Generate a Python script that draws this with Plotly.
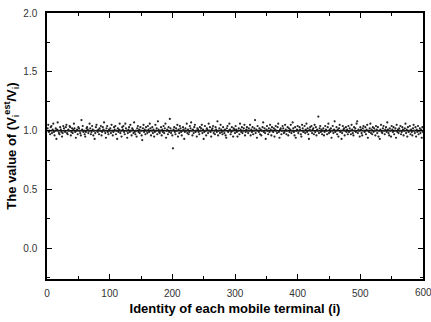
import plotly.graph_objects as go

ratio = [
1.02,1.05,0.99,1.00,0.97,1.03,1.04,0.98,1.01,1.06,0.99,0.96,1.00,1.02,0.93,1.01,1.07,1.00,0.98,0.97,
1.03,1.01,0.99,0.95,0.98,1.04,1.02,1.00,0.99,1.03,1.05,0.98,0.97,1.01,1.00,1.04,1.03,0.96,0.99,1.02,
0.98,1.01,1.06,1.02,0.99,0.94,1.00,1.01,0.97,1.03,1.02,1.00,0.98,0.96,1.09,1.01,1.04,0.99,1.00,0.97,
0.95,0.99,1.02,1.03,1.01,0.98,1.00,1.06,1.02,0.97,0.99,1.04,1.01,0.96,1.00,0.93,0.98,1.03,1.05,1.00,
0.99,1.01,0.97,1.02,1.00,1.04,0.96,0.99,1.03,1.01,1.07,1.00,0.98,0.94,1.02,1.04,0.99,0.97,1.01,1.00,
1.02,0.98,1.05,1.00,0.96,0.99,1.03,1.01,1.04,0.97,1.00,0.93,1.02,0.99,1.01,1.06,0.98,1.00,0.95,1.03,
1.01,1.04,0.99,0.97,1.06,1.02,1.00,0.94,0.98,1.01,1.03,0.99,1.05,1.00,0.96,1.02,1.01,0.98,1.07,0.99,
0.97,1.00,0.95,1.02,1.04,0.99,1.01,0.98,1.03,1.00,0.96,0.92,1.02,1.05,0.99,1.01,0.97,1.03,1.00,0.98,
1.04,1.01,0.99,1.06,1.02,0.96,1.00,1.03,0.98,1.01,0.95,0.99,1.05,1.00,1.02,0.97,1.08,1.01,0.99,0.98,
1.00,1.03,0.96,1.01,0.99,1.04,0.98,1.02,1.06,0.94,1.00,1.01,0.97,1.03,0.99,1.10,1.02,0.98,1.00,0.96,
0.85,1.01,1.03,0.99,0.97,1.02,1.00,1.05,0.95,1.01,0.98,1.04,1.02,0.99,0.96,1.00,1.03,1.01,0.93,0.99,
1.02,1.00,1.06,0.98,1.01,0.97,0.99,1.04,1.02,1.07,1.00,0.96,1.01,0.98,1.03,1.05,0.99,1.00,0.95,1.02,
1.01,0.99,0.97,1.03,1.00,1.02,1.05,0.98,1.01,0.93,0.99,1.04,1.00,0.96,1.02,1.01,0.98,1.06,1.00,1.03,
0.99,0.95,1.01,1.02,1.04,0.98,1.00,0.97,1.03,1.01,0.99,1.08,0.96,1.00,1.02,0.98,1.05,1.01,0.99,0.97,
1.03,1.00,0.98,1.01,0.96,0.94,1.02,1.04,0.99,1.00,1.06,1.01,0.97,0.99,1.03,1.00,0.95,1.02,1.01,0.98,
1.04,1.01,0.99,0.95,1.00,1.02,0.97,1.06,1.01,0.99,1.03,0.98,1.00,1.02,1.05,0.96,0.99,1.01,1.03,1.00,
0.98,1.02,1.00,1.05,0.96,1.01,0.99,1.03,0.97,1.00,1.02,1.09,0.98,1.01,0.94,1.04,1.00,0.99,1.02,0.97,
1.01,0.96,1.00,1.03,1.07,0.99,1.02,0.98,0.93,1.01,1.04,1.00,0.97,1.02,0.99,1.05,1.01,0.96,1.03,1.00,
0.99,1.02,0.95,1.01,1.04,1.00,0.98,1.03,1.06,0.99,0.94,1.01,1.02,0.97,1.00,1.04,1.02,0.98,0.99,1.05,
1.01,0.97,1.00,1.03,0.96,1.02,0.99,1.01,1.05,0.98,1.00,1.07,1.02,0.99,0.96,1.03,0.94,1.00,1.01,1.04,
0.98,1.00,1.03,1.01,0.97,0.95,1.05,1.02,0.99,1.00,1.04,0.98,1.01,1.06,0.99,1.02,0.97,0.93,1.01,1.03,
1.00,1.04,0.98,1.01,1.02,0.97,1.05,0.99,1.03,0.96,1.01,1.00,1.12,0.98,1.02,1.04,0.99,1.01,0.97,1.00,
1.02,0.96,0.99,1.04,1.01,1.00,0.97,1.03,1.06,0.98,1.01,0.99,1.02,0.94,1.00,1.04,0.98,1.01,1.08,0.99,
1.00,1.03,0.97,1.01,0.95,1.02,1.05,0.99,1.00,0.93,0.98,1.04,1.01,1.02,0.96,1.00,1.03,0.99,1.01,0.97,
1.04,0.99,1.02,1.00,0.97,1.05,1.01,0.98,0.96,1.03,1.00,1.02,0.99,1.06,1.08,0.98,1.01,1.00,0.95,1.03,
1.01,0.98,0.96,1.02,1.04,1.00,0.99,1.03,0.97,1.01,1.05,0.94,1.00,0.99,1.02,1.06,0.98,1.01,0.97,1.03,
0.99,1.02,1.00,0.96,1.04,1.01,0.98,1.03,0.95,1.00,0.93,1.01,1.05,0.99,0.98,1.02,1.04,1.00,0.97,1.01,
1.03,0.99,1.07,1.01,0.98,0.96,1.02,1.00,0.95,1.04,1.01,0.99,1.03,0.97,1.00,1.02,0.94,1.05,0.99,1.01,
0.98,1.02,1.00,1.04,0.97,0.99,1.03,1.01,0.96,1.00,1.02,1.06,0.98,1.01,0.95,1.03,0.99,1.00,1.04,0.97,
1.01,0.99,0.96,1.02,1.05,1.00,0.98,1.03,0.95,1.01,0.99,1.04,0.97,1.00,1.02,0.98,1.01,0.94,1.03,0.99,
]
terminal = list(range(1, len(ratio) + 1))
ref_x = [0, 600]
ref_y = [1.0, 1.0]
x_ticks = [0, 100, 200, 300, 400, 500, 600]
y_ticks = [0.0, 0.5, 1.0, 1.5, 2.0]

FONT = "Liberation Sans, Arial"

fig = go.Figure()
fig.add_trace(go.Scatter(x=ref_x, y=ref_y, mode="lines",
                         line=dict(color="#111", width=1.6), showlegend=False))
fig.add_trace(go.Scatter(x=terminal, y=ratio, mode="markers",
                         marker=dict(color="#222", size=2.2, line=dict(width=0)),
                         showlegend=False))

axis_common = dict(showline=True, linecolor="black", linewidth=1.5, mirror="ticks",
                   ticks="inside", ticklen=5, tickwidth=1.2, tickcolor="black",
                   showgrid=False, zeroline=False,
                   tickfont=dict(family=FONT, size=10, color="#333"))

fig.update_xaxes(range=[0, 600], tickvals=x_ticks,
                 minor=dict(ticks="inside", dtick=50, ticklen=3, tickcolor="black"),
                 title=dict(text="<b>Identity of each mobile terminal (i)</b>",
                            font=dict(family=FONT, size=13, color="black"),
                            standoff=6),
                 ticklabelstandoff=4, **axis_common)
fig.update_yaxes(range=[-0.26, 2.0], tickvals=y_ticks, tickformat=".1f",
                 minor=dict(ticks="inside", dtick=0.25, tick0=0, ticklen=3, tickcolor="black"),
                 title=dict(text="<b>The value of (V<sub>i</sub><sup>est</sup>/V<sub>i</sub>)</b>",
                            font=dict(family=FONT, size=13, color="black"),
                            standoff=4),
                 ticklabelstandoff=6, **axis_common)

# last x tick label sits on the right edge of the page and is cut there
fig.add_annotation(x=x_ticks[-1], xref="x", y=0, yref="paper", yanchor="top",
                   yshift=-6, text=str(x_ticks[-1]), showarrow=False,
                   font=dict(family=FONT, size=10, color="#333"))

fig.update_layout(width=431, height=322, margin=dict(l=47, r=6, t=13, b=43),
                  plot_bgcolor="white", paper_bgcolor="white")
fig.write_html("out.html")
